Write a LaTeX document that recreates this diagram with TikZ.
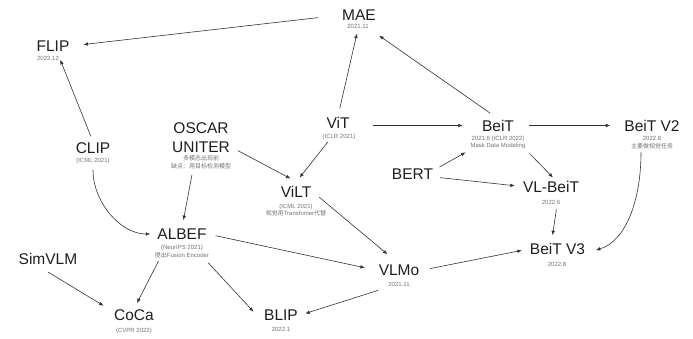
\documentclass[tikz,border=0pt]{standalone}
\usepackage{fontspec}
\setmainfont{Liberation Sans}
\newfontfamily\cjk{Noto Sans CJK SC}
\usetikzlibrary{arrows.meta}
\tikzset{
  paper/.style={font=\fontsize{15.5}{18}\selectfont,text=black!88,inner sep=1pt},
  note/.style={font=\fontsize{6}{7.8}\selectfont,text=black!55,align=center,inner sep=0.5pt},
  link/.style={-{Latex[length=4.5pt,width=3.6pt]},black!80,line width=0.6pt},
}
\begin{document}
\begin{tikzpicture}[x=1pt,y=-1pt]
\fill[white] (0,0) rectangle (693,339);
\useasboundingbox (0,0) rectangle (693,339);
\node[paper] (mae) at (359,15) {MAE};
\node[note] (maeN) at (358,26) {2021.11};
\node[paper] (flip) at (53,46) {FLIP};
\node[note] (flipN) at (48,58) {2022.12};
\node[paper] (clip) at (93,148.5) {CLIP};
\node[note] (clipN) at (93,160.5) {(ICML 2021)};
\node[paper] (oscar) at (201,128) {OSCAR};
\node[paper] (uniter) at (201,147) {UNITER};
\node[note] (uniterN) at (201,162) {{\cjk 多模态出现前}\\{\cjk 缺点：用目标检测模型}};
\node[paper] (vit) at (338,123) {ViT};
\node[note] (vitN) at (339,137) {(ICLR 2021)};
\node[paper] (beit) at (498,125.5) {BeiT};
\node[note] (beitN) at (498,142.5) {2021.6 (ICLR 2022)\\Mask Data Modeling};
\node[paper] (beitII) at (652,125.5) {BeiT V2};
\node[note] (beitIIN) at (652,142.5) {2022.8\\{\cjk 主要做视觉任务}};
\node[paper] (bert) at (412.5,174) {BERT};
\node[paper] (vlbeit) at (551,186.5) {VL-BeiT};
\node[note] (vlbeitN) at (551,202.7) {2022.6};
\node[paper] (beitIII) at (557.5,249) {BeiT V3};
\node[note] (beitIIIN) at (557,264.7) {2022.8};
\node[paper] (vilt) at (296,191.5) {ViLT};
\node[note] (viltN) at (296,210) {(ICML 2021)\\{\cjk 视觉用}Transfomer{\cjk 代替}};
\node[paper] (vlmo) at (399,270.5) {VLMo};
\node[note] (vlmoN) at (399,284.5) {2021.11};
\node[paper] (albef) at (182,234) {ALBEF};
\node[note] (albefN) at (182,251.2) {(NeurIPS 2021)\\{\cjk 提出}Fusion Encoder};
\node[paper] (simvlm) at (48,259) {SimVLM};
\node[paper] (coca) at (134,315.5) {CoCa};
\node[note] (cocaN) at (134,330.5) {(CVPR 2022)};
\node[paper] (blip) at (281,315.5) {BLIP};
\node[note] (blipN) at (281,329.5) {2022.1};
\draw[link,shorten <=23pt,shorten >=13pt] (mae.west) -- (flip.east);
\draw[link,shorten <=6pt,shorten >=2pt] (clip.north) -- (flipN.east);
\draw[link,shorten <=8pt,shorten >=5pt] (vit.north) -- (maeN.south);
\draw[link,shorten <=10pt,shorten >=12pt] (beit.north) -- (maeN.south east);
\draw[link,shorten <=22pt,shorten >=18pt] (vit.east |- beit.west) -- (beit.west);
\draw[link,shorten <=14pt,shorten >=13pt] (beit.east) -- (beitII.west);
\draw[link,shorten <=6pt,shorten >=5pt] ([yshift=4pt]bert.east) -- (beitN.south west);
\draw[link,shorten <=6pt,shorten >=7pt] ([yshift=-3pt]bert.east) -- (vlbeit.west);
\draw[link,shorten <=5pt,shorten >=3pt] (beitN.south east) -- ([xshift=4pt]vlbeit.north);
\draw[link,shorten <=4pt,shorten >=7pt] ([xshift=6pt]vlbeitN.south) -- ([xshift=-6pt]beitIII.north);
\draw[link,shorten <=3pt,shorten >=10pt] ([xshift=-11pt]beitIIN.south) .. controls +(0,50) and +(40,-12) .. ([yshift=-4pt]beitIII.east);
\draw[link,shorten <=8pt,shorten >=13pt] (uniter.east) -- ([xshift=6pt]vilt.north);
\draw[link,shorten <=2pt,shorten >=9pt] ([xshift=-10pt]vitN.south) -- ([xshift=-2pt]vilt.north);
\draw[link,shorten <=9pt,shorten >=15pt] (vilt.east) -- (vlmo.north);
\draw[link,shorten <=5.5pt,shorten >=7.5pt] ([xshift=-8pt]uniterN.south) -- (albef.north);
\draw[link,shorten <=6pt,shorten >=6pt] (clipN.south) .. controls +(0,38) and +(-36,0) .. (albef.west);
\draw[link,shorten <=8pt,shorten >=13pt] (albef.east) -- (vlmo.west);
\draw[link,shorten <=3.5pt,shorten >=6.5pt] ([xshift=-22pt]albefN.south) -- (coca.north);
\draw[link,shorten <=6.5pt,shorten >=14pt] ([xshift=22pt]albefN.south) -- (blip.south west);
\draw[link,shorten <=12pt,shorten >=11pt] ([xshift=-10pt]simvlm.south) -- ([yshift=4pt]coca.west);
\draw[link,shorten <=10pt,shorten >=6.5pt] (vlmoN.south west) -- (blip.east);
\draw[link,shorten <=10pt,shorten >=7pt] (vlmo.east) -- (beitIII.west);
\end{tikzpicture}
\end{document}
